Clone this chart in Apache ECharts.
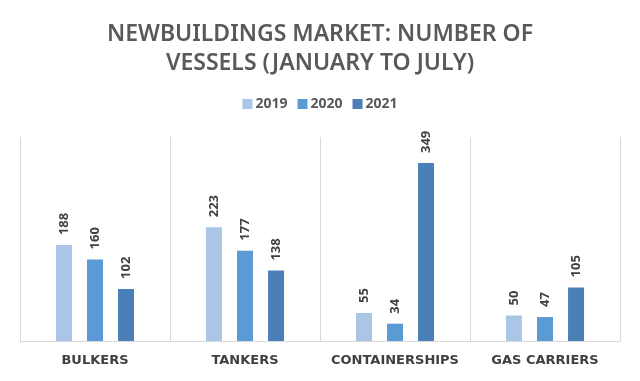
<!DOCTYPE html>
<html>
<head>
<meta charset="utf-8">
<script src="https://cdn.jsdelivr.net/npm/echarts@6/dist/echarts.min.js"></script>
<style>html,body{margin:0;padding:0;background:#fff}#c{width:640px;height:381px}</style>
</head>
<body>
<div id="c"></div>
<script>
var categories = ['BULKERS', 'TANKERS', 'CONTAINERSHIPS', 'GAS CARRIERS'];
var years = ['2019', '2020', '2021'];
var values2019 = [188, 223, 55, 50];
var values2020 = [160, 177, 34, 47];
var values2021 = [102, 138, 349, 105];
var colors = ['#abc5e6', '#5b9bd5', '#4a7fb8'];

var chart = echarts.init(document.getElementById('c'));
var seriesData = [values2019, values2020, values2021];
var series = years.map(function (y, i) {
  return {
    name: y,
    type: 'bar',
    data: seriesData[i],
    barWidth: 16,
    barGap: '94%',
    itemStyle: { color: colors[i] },
    label: {
      show: true,
      position: 'top',
      rotate: 90,
      align: 'left',
      verticalAlign: 'middle',
      distance: 10,
      fontFamily: 'Open Sans',
      fontWeight: 'bold',
      fontSize: 13,
      color: '#404040'
    }
  };
});

chart.setOption({
  animation: false,
  title: {
    text: 'NEWBUILDINGS MARKET: NUMBER OF\nVESSELS (JANUARY TO JULY)',
    left: 'center',
    top: 15,
    textStyle: {
      fontFamily: 'Noto Sans',
      fontWeight: 600,
      fontSize: 23,
      lineHeight: 29,
      color: '#595959'
    }
  },
  legend: {
    data: years,
    top: 92,
    left: 'center',
    itemWidth: 10,
    itemHeight: 10,
    itemGap: 10,
    icon: 'rect',
    textStyle: { fontFamily: 'Open Sans', fontWeight: 'bold', fontSize: 14, color: '#595959', padding: [0, 0, 0, -2] }
  },
  grid: { left: 20, right: 20, top: 137, bottom: 40 },
  xAxis: {
    type: 'category',
    data: categories,
    axisLine: { lineStyle: { color: '#d9d9d9' } },
    axisTick: { show: false },
    splitLine: { show: true, interval: 0, lineStyle: { color: '#d9d9d9' } },
    axisLabel: {
      interval: 0,
      fontFamily: 'DejaVu Sans',
      fontWeight: 'bold',
      fontSize: 13,
      color: '#404040',
      margin: 13
    }
  },
  yAxis: {
    type: 'value',
    min: 0,
    max: 400,
    show: false,
    splitLine: { show: false }
  },
  series: series
});
</script>
</body>
</html>
